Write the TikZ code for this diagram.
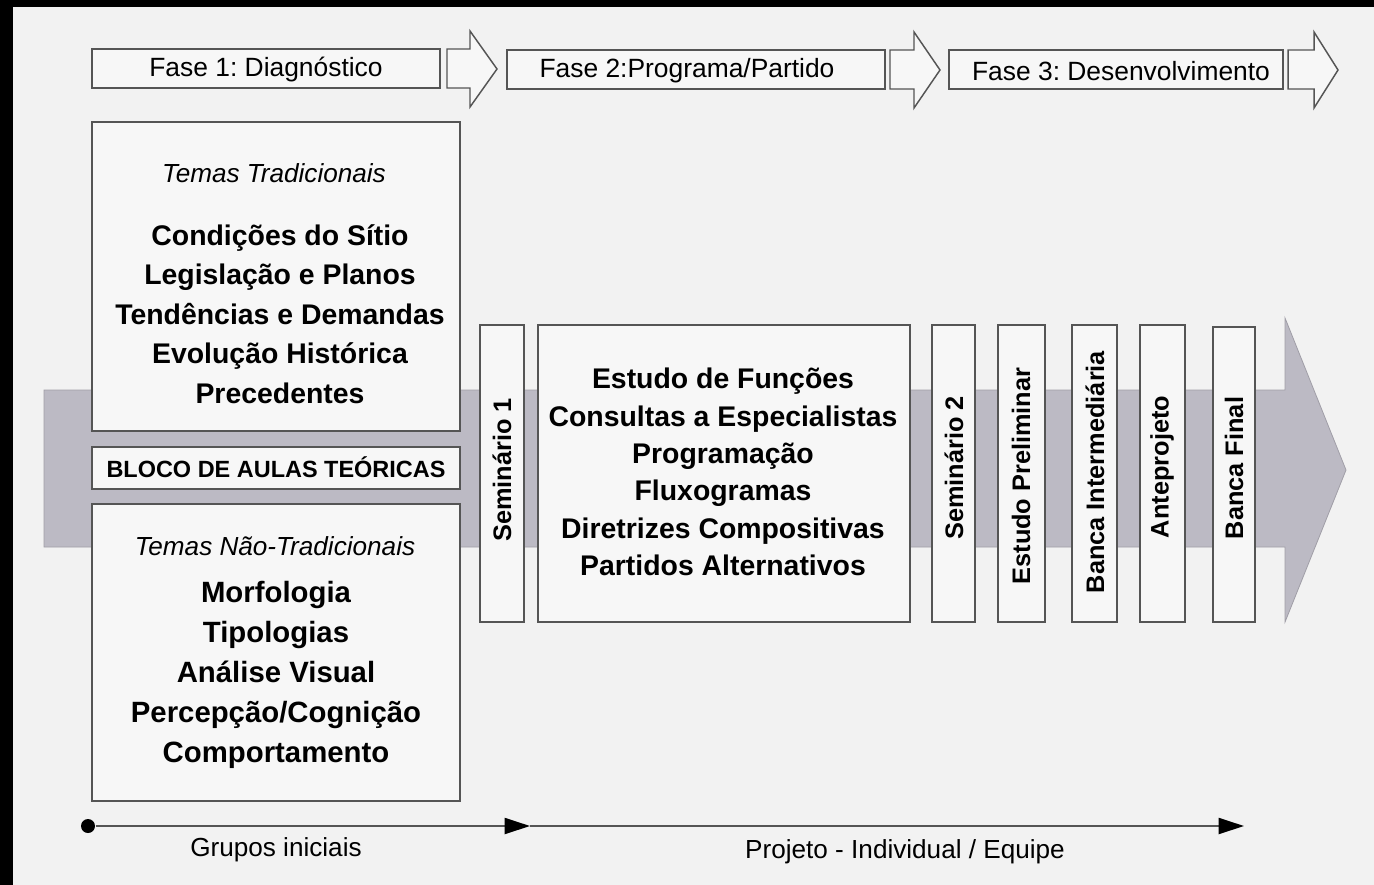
\documentclass[tikz,border=0pt]{standalone}
\usepackage{fontspec}
\setmainfont{Liberation Sans}
\usetikzlibrary{arrows.meta}
\frenchspacing

\definecolor{paper}{RGB}{242,242,242}
\definecolor{boxfill}{RGB}{247,247,247}
\definecolor{boxline}{RGB}{85,85,85}
\definecolor{bandgray}{RGB}{188,186,196}

\tikzset{every picture/.style={line width=0.75pt}}
\tikzset{
  box/.style={draw=boxline, fill=boxfill, line width=1.1pt},
  phasetext/.style={font=\fontsize{19.8}{24}\selectfont},
  themetitle/.style={font=\fontsize{19.6}{24}\selectfont\itshape},
  themelist/.style={font=\fontsize{21.3}{29.6}\selectfont\bfseries, align=center},
  vlabel/.style={font=\fontsize{19}{23}\selectfont\bfseries, rotate=90},
  blocktext/.style={font=\fontsize{17.6}{21}\selectfont\bfseries},
  timeline/.style={draw=boxline, line width=1.5pt, -{Triangle[length=19pt,width=12pt,color=black]}},
  startdot/.style={circle, fill=black, inner sep=0pt, minimum size=10.5pt},
  caption/.style={font=\fontsize{19.6}{24}\selectfont}
}

\begin{document}
\begin{tikzpicture}[x=0.75pt,y=0.75pt,yscale=-1,xscale=1]
\useasboundingbox (0,0) rectangle (1374,885);

%Paper and scan edges
\fill[paper] (0,0) rectangle (1374,885);
\fill[black] (0,0) rectangle (1374,7);
\fill[black] (0,0) rectangle (13,885);

%Shape: Right Arrow (phase 1)
\draw[box] (92,49) rectangle (440,88);
\draw[box] (447,49) -- (470,49) -- (470,31) -- (497,69) -- (470,107) -- (470,88) -- (447,88) -- cycle;
\node[phasetext] (fase1) at (266,70) {Fase 1: Diagnóstico};
%Shape: Right Arrow (phase 2)
\draw[box] (507,50) rectangle (885,89);
\draw[box] (890,50) -- (914,50) -- (914,32) -- (940,70) -- (914,108) -- (914,89) -- (890,89) -- cycle;
\node[phasetext] (fase2) at (687,71) {Fase 2:Programa/Partido};
%Shape: Right Arrow (phase 3)
\draw[box] (949,50) rectangle (1283,89);
\draw[box] (1288,50) -- (1314,50) -- (1314,32) -- (1338,70) -- (1314,108) -- (1314,89) -- (1288,89) -- cycle;
\node[phasetext] (fase3) at (1121,71) {Fase 3: Desenvolvimento};

%Shape: Big Right Arrow
\draw[fill=bandgray, draw=bandgray!85!black, line width=0.6pt] (44,390) -- (1285,390) -- (1285,318) -- (1346,470) -- (1285,622) -- (1285,547) -- (44,547) -- cycle;

%Shape: Rectangle (traditional themes)
\draw[box] (92,122) rectangle (460,431);
\node[themetitle] (tradtitle) at (274,173) {Temas Tradicionais};
\node[themelist] (tradlist) at (280,314) {Condições do Sítio\\Legislação e Planos\\Tendências e Demandas\\Evolução Histórica\\Precedentes};

%Shape: Rectangle (lecture block)
\draw[box] (92,447) rectangle (460,489);
\node[blocktext] (bloco) at (276,467) {BLOCO DE AULAS TEÓRICAS};

%Shape: Rectangle (non-traditional themes)
\draw[box] (92,504) rectangle (460,801);
\node[themetitle] (ntradtitle) at (275,546) {Temas Não-Tradicionais};
\node[themelist, font=\fontsize{22}{30}\selectfont\bfseries] (ntradlist) at (276,675) {Morfologia\\Tipologias\\Análise Visual\\Percepção/Cognição\\Comportamento};

%Shape: Rectangle (seminar 1)
\draw[box] (480,325) rectangle (524,622);
\node[vlabel] (sem1) at (502,470) {Seminário 1};

%Shape: Rectangle (programme)
\draw[box] (538,325) rectangle (910,622);
\node[themelist, font=\fontsize{21.3}{28}\selectfont\bfseries] (proglist) at (723,472) {Estudo de Funções\\Consultas a Especialistas\\Programação\\Fluxogramas\\Diretrizes Compositivas\\Partidos Alternativos};

%Shape: Rectangle (development stages)
\draw[box] (932,325) rectangle (975,622);
\node[vlabel] (sem2) at (954,468) {Seminário 2};
\draw[box] (998,325) rectangle (1045,622);
\node[vlabel] (estudo) at (1021,476) {Estudo Preliminar};
\draw[box] (1072,325) rectangle (1117,622);
\node[vlabel] (bancaint) at (1095,472) {Banca Intermediária};
\draw[box] (1140,325) rectangle (1185,622);
\node[vlabel] (antep) at (1162,467) {Anteprojeto};
\draw[box] (1213,327) rectangle (1255,622);
\node[vlabel] (bancafin) at (1234,468) {Banca Final};

%Straight Lines (time line)
\node[startdot] (inicio) at (88,826) {};
\coordinate (meio) at (530,826);
\coordinate (fim) at (1244,826);
\draw[timeline] (inicio) -- (meio);
\draw[timeline] (meio) -- (fim);
\node[caption] (grupos) at (276,850) {Grupos iniciais};
\node[caption] (projeto) at (905,852) {Projeto - Individual / Equipe};

\end{tikzpicture}
\end{document}
